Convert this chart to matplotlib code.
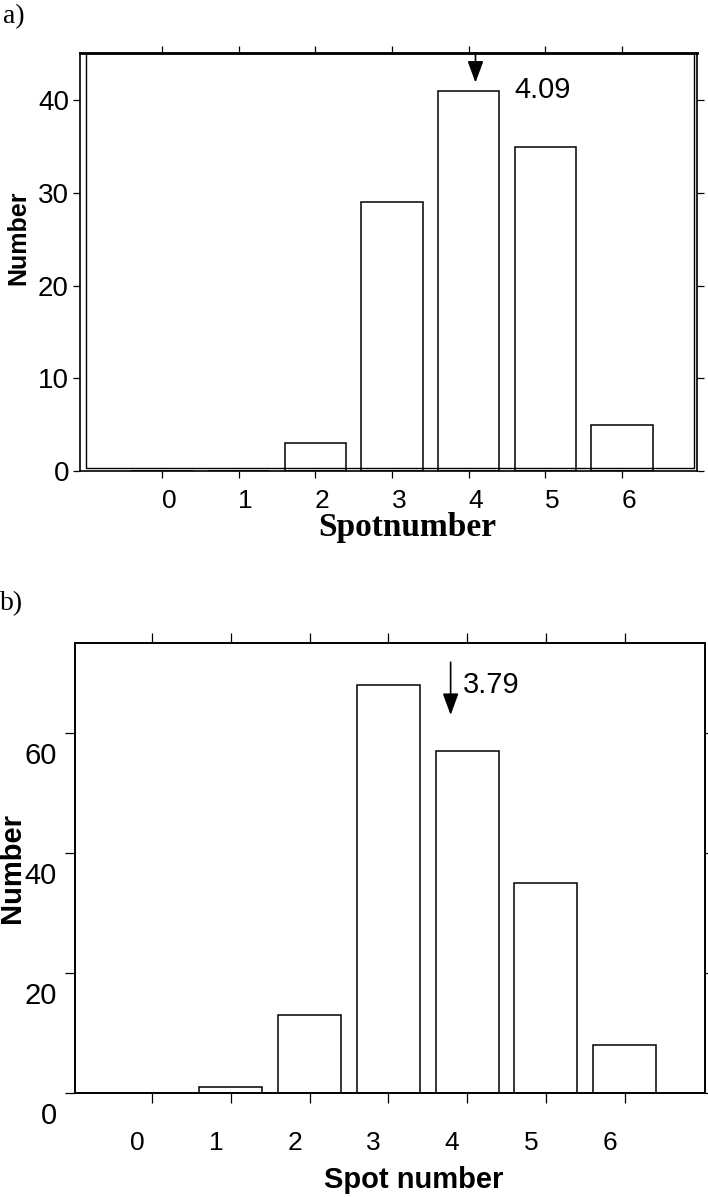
import matplotlib
matplotlib.use("Agg")
import matplotlib.pyplot as plt
import matplotlib.transforms as mtransforms
from matplotlib.patches import Rectangle

# data
spots = [0, 1, 2, 3, 4, 5, 6]
counts_a = [0, 0, 3, 29, 41, 35, 5]
counts_b = [0, 1, 13, 68, 57, 35, 8]
mean_a = 4.09
mean_b = 3.79
yticks_a = [0, 10, 20, 30, 40]
yticks_b = [0, 20, 40, 60]

sans = "Liberation Sans"
serif = "Liberation Serif"
plt.rcParams['font.family'] = sans

fig = plt.figure(figsize=(7.08, 11.97), dpi=100)
W, H = 708, 1197

def px_axes(l, t, r, b):
    return fig.add_axes([l / W, 1 - b / H, (r - l) / W, (b - t) / H])

def shift_labels(labels, dx_px, dy_px):
    off = mtransforms.ScaledTranslation(dx_px / 100, dy_px / 100, fig.dpi_scale_trans)
    for lab in labels:
        lab.set_transform(lab.get_transform() + off)

arrow = dict(arrowstyle="-|>,head_length=0.6,head_width=0.22", color="black",
             lw=1.2, mutation_scale=22, shrinkA=0, shrinkB=0)

# ---- panel a ----
ax = px_axes(80, 53, 697, 471)
ax.bar(spots, counts_a, width=0.8, facecolor="white", edgecolor="black", linewidth=1.1)
ax.set_xlim(-1.07, 6.98)
ax.set_ylim(0, 45.1)
ax.set_xticks(spots)
ax.set_yticks(yticks_a)
ax.tick_params(direction="out", length=5, width=0.9, top=True, right=True,
               labeltop=False, labelright=False)
ax.tick_params(axis="x", labelsize=19, pad=8)
ax.tick_params(axis="y", labelsize=20, pad=3)
for s in ax.spines.values():
    s.set_linewidth(1.2)
ax.spines["top"].set_linewidth(2.0)
# inner frame (double line in the original)
ax.add_patch(Rectangle((0.0097, 0.007), 0.985, 0.993, transform=ax.transAxes,
                       fill=False, edgecolor="black", linewidth=1.0, clip_on=False))
shift_labels(ax.get_xticklabels(), 7, 0)
ax.set_xlabel("Spotnumber", family=serif, fontweight="bold", fontsize=24, va="center")
ax.xaxis.set_label_coords(0.53, -0.134)
ax.set_ylabel("Number", fontweight="bold", fontsize=18, va="center")
ax.yaxis.set_label_coords(-0.1, 0.557)
ax.annotate("", xy=(mean_a, 41.9), xytext=(mean_a, 45.1), arrowprops=arrow)
ax.text(4.6, 41.1, f"{mean_a:.2f}", fontsize=21, ha="left", va="center")

# ---- panel b ----
bx = px_axes(75, 643, 705, 1093)
bx.bar(spots, counts_b, width=0.8, facecolor="white", edgecolor="black", linewidth=1.1)
bx.set_xlim(-0.98, 7.02)
bx.set_ylim(0, 75)
bx.set_xticks(spots)
bx.set_yticks(yticks_b)
bx.tick_params(direction="out", length=7, width=0.9, top=True, right=True,
               labeltop=False, labelright=False)
bx.tick_params(axis="x", labelsize=19, pad=20)
bx.tick_params(axis="y", labelsize=21, pad=6)
for s in bx.spines.values():
    s.set_linewidth(1.4)
# tick labels sit a bit off their ticks in the original scan
shift_labels(bx.get_xticklabels(), -15, 0)
shift_labels(bx.get_yticklabels(), 0, -20)
bx.set_xlabel("Spot number", fontweight="bold", fontsize=21, va="center")
bx.xaxis.set_label_coords(0.538, -0.193)
bx.set_ylabel("Number", fontweight="bold", fontsize=21, va="center")
bx.yaxis.set_label_coords(-0.1, 0.5)
bx.annotate("", xy=(mean_b, 63), xytext=(mean_b, 71.8), arrowprops=arrow)
bx.text(3.95, 68, f"{mean_b:.2f}", fontsize=21, ha="left", va="center")

fig.text(3 / W, 1 - 4 / H, "a)", family=serif, fontsize=20, ha="left", va="top")
fig.text(0 / W, 1 - 591 / H, "b)", family=serif, fontsize=20, ha="left", va="top")

fig.savefig("out.png", dpi=100)
